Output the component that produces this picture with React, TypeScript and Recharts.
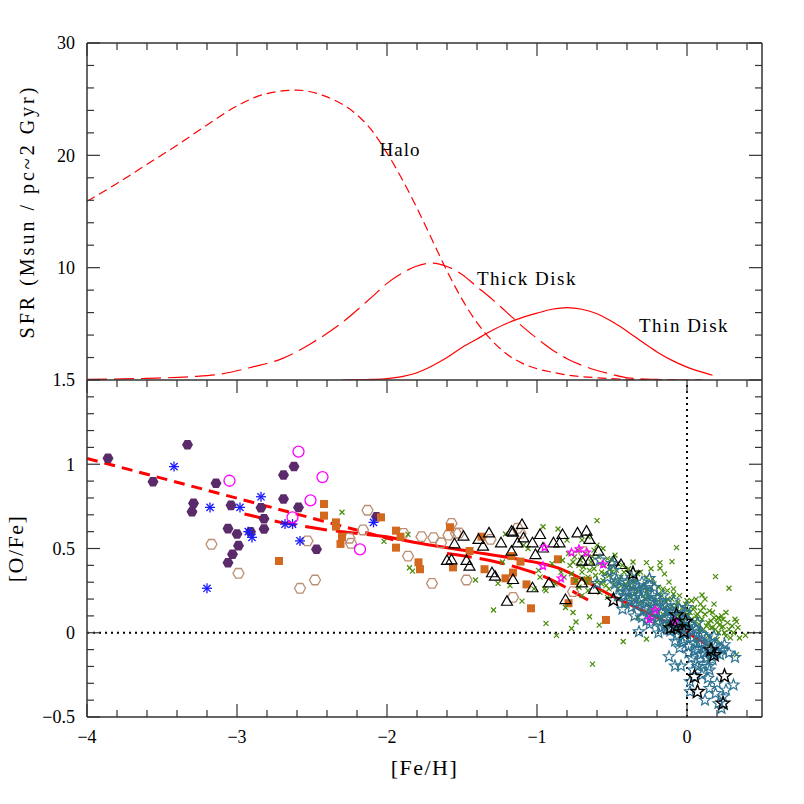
import React from 'react';
import { ComposedChart, Line, Scatter, XAxis, YAxis, ReferenceLine, ReferenceDot } from 'recharts';

const FONT = 'Liberation Serif, DejaVu Serif, serif';
const FRAME = '#333';
const RED = '#ff0000';

// ticks: [Fe/H] minor every 0.2, labelled every 1
const feTicks = [-4, -3.8, -3.6, -3.4, -3.2, -3, -2.8, -2.6, -2.4, -2.2, -2, -1.8, -1.6, -1.4, -1.2, -1, -0.8, -0.6, -0.4, -0.2, 0, 0.2, 0.4];
const feMajor = [-4, -3, -2, -1, 0];
const feLabels = [-4, -3, -2, -1, 0];

const sfrTicks = [2, 4, 6, 8, 10, 12, 14, 16, 18, 20, 22, 24, 26, 28, 30];
const sfrMajor = [10, 20, 30];
const sfrLabels = [10, 20, 30];

const ofeTicks = [-0.5, -0.4, -0.3, -0.2, -0.1, 0, 0.1, 0.2, 0.3, 0.4, 0.5, 0.6, 0.7, 0.8, 0.9, 1, 1.1, 1.2, 1.3, 1.4, 1.5];
const ofeMajor = [-0.5, 0, 0.5, 1, 1.5];
const ofeLabels = [-0.5, 0, 0.5, 1, 1.5];

// top panel: star formation rate vs [Fe/H]
const haloSfr = [
  [-4.0, 15.9], [-3.8, 17.5], [-3.6, 19.2], [-3.4, 20.9], [-3.2, 22.7], [-3.0, 24.4], [-2.8, 25.5],
  [-2.6, 25.8], [-2.4, 25.2], [-2.2, 23.6], [-2.1, 22.2], [-2.0, 20.2], [-1.9, 17.9], [-1.8, 15.3],
  [-1.7, 12.5], [-1.6, 9.7], [-1.5, 7.2], [-1.4, 5.1], [-1.3, 3.5], [-1.2, 2.3], [-1.1, 1.5],
  [-1.0, 1.0], [-0.9, 0.7], [-0.8, 0.45], [-0.6, 0.2], [-0.4, 0.07], [-0.2, 0.02], [0.0, 0.0], [0.1, 0.0],
];
const thickSfr = [
  [-4.0, 0.05], [-3.6, 0.15], [-3.3, 0.3], [-3.1, 0.55], [-2.9, 1.15], [-2.7, 1.9], [-2.5, 3.3],
  [-2.3, 5.1], [-2.1, 7.4], [-2.0, 8.6], [-1.9, 9.5], [-1.8, 10.15], [-1.7, 10.4], [-1.6, 10.1],
  [-1.5, 9.4], [-1.4, 8.3], [-1.3, 7.2], [-1.2, 6.0], [-1.1, 4.8], [-1.0, 3.7], [-0.9, 2.7],
  [-0.8, 1.9], [-0.7, 1.3], [-0.6, 0.85], [-0.5, 0.5], [-0.4, 0.2], [-0.2, 0.05], [0.0, 0.0], [0.1, 0.0],
];
const thinSfr = [
  [-2.3, 0.0], [-2.1, 0.05], [-2.0, 0.12], [-1.9, 0.3], [-1.8, 0.65], [-1.7, 1.25], [-1.6, 2.0],
  [-1.5, 2.9], [-1.4, 3.65], [-1.3, 4.4], [-1.2, 5.05], [-1.1, 5.55], [-1.0, 5.95], [-0.9, 6.3],
  [-0.8, 6.45], [-0.7, 6.3], [-0.6, 5.9], [-0.5, 5.2], [-0.4, 4.35], [-0.3, 3.4], [-0.2, 2.5],
  [-0.1, 1.75], [0.0, 1.15], [0.1, 0.7], [0.17, 0.42],
];

// bottom panel: observed [O/Fe] vs [Fe/H]
const purpleHex = [
  [-3.86, 1.035], [-3.33, 1.116], [-3.56, 0.896], [-3.14, 0.887], [-3.29, 0.768], [-3.3, 0.718],
  [-3.04, 0.756], [-2.84, 0.742], [-2.82, 0.677], [-2.82, 0.616], [-3.06, 0.618], [-3.0, 0.586],
  [-2.91, 0.6], [-2.99, 0.517], [-3.03, 0.466], [-3.06, 0.416], [-2.69, 0.936], [-2.62, 0.986],
  [-2.69, 0.794], [-2.59, 0.744], [-2.47, 0.495], [-2.07, 0.689],
];
const blueAst = [
  [-3.42, 0.986], [-3.18, 0.744], [-2.98, 0.744], [-2.84, 0.807], [-2.925, 0.6], [-2.9, 0.566],
  [-3.2, 0.264], [-2.68, 0.645], [-2.63, 0.645], [-2.58, 0.545], [-2.09, 0.655],
];
const magentaCirc = [[-3.05, 0.902], [-2.59, 1.075], [-2.43, 0.924], [-2.51, 0.786], [-2.63, 0.685], [-2.18, 0.495]];
const tanHex = [
  [-3.17, 0.525], [-2.99, 0.353], [-2.53, 0.545], [-2.58, 0.264], [-2.48, 0.313], [-2.13, 0.727],
  [-2.25, 0.561], [-2.24, 0.531], [-2.16, 0.61], [-1.86, 0.455], [-1.77, 0.57], [-1.69, 0.564],
  [-1.64, 0.534], [-1.57, 0.649], [-1.54, 0.59], [-1.89, 0.59], [-1.7, 0.293], [-1.47, 0.313],
  [-1.59, 0.58], [-1.52, 0.592], [-1.31, 0.554], [-1.16, 0.21], [-1.11, 0.59], [-0.76, 0.244],
  [-0.69, 0.481], [-1.13, 0.62],
];
const orangeSq = [
  [-2.72, 0.426], [-2.42, 0.764], [-2.42, 0.695], [-2.34, 0.655], [-2.34, 0.63], [-2.3, 0.57],
  [-2.31, 0.527], [-2.04, 0.685], [-1.94, 0.606], [-1.94, 0.505], [-1.91, 0.57], [-1.79, 0.418],
  [-1.78, 0.377], [-1.58, 0.626], [-1.56, 0.388], [-1.37, 0.57], [-1.45, 0.485], [-1.35, 0.377],
  [-1.21, 0.323], [-1.17, 0.455], [-1.16, 0.357], [-1.07, 0.287], [-1.04, 0.145], [-1.11, 0.422],
  [-0.86, 0.436], [-0.75, 0.307], [-0.79, 0.175], [-0.66, 0.309], [-0.54, 0.076],
];
const blackTri = [
  [-1.55, 0.525], [-1.6, 0.426], [-1.57, 0.43], [-1.47, 0.426], [-1.45, 0.392], [-1.49, 0.57],
  [-1.39, 0.551], [-1.36, 0.511], [-1.32, 0.59], [-1.3, 0.353], [-1.28, 0.333], [-1.24, 0.531],
  [-1.2, 0.184], [-1.16, 0.313], [-1.17, 0.6], [-1.1, 0.64], [-1.09, 0.56], [-1.03, 0.531],
  [-1.01, 0.461], [-1.03, 0.264], [-0.92, 0.293], [-0.89, 0.531], [-0.83, 0.58], [-0.85, 0.531],
  [-0.81, 0.194], [-0.73, 0.59], [-0.67, 0.6], [-0.65, 0.551], [-0.7, 0.422], [-0.65, 0.422],
  [-0.59, 0.481], [-0.49, 0.422], [-0.44, 0.402], [-0.7, 0.293], [-0.62, 0.254], [-1.17, 0.481],
  [-1.16, 0.594], [-0.96, 0.5], [-0.98, 0.58], [-1.13, 0.53],
];
const greenX = [
  [-2.3, 0.715], [-2.02, 0.542], [-1.86, 0.584], [-1.85, 0.386], [-1.83, 0.366], [-1.41, 0.313],
  [-1.29, 0.135], [-1.26, 0.293], [-1.21, 0.586], [-1.1, 0.188], [-0.96, 0.629], [-0.94, 0.056],
  [-0.87, -0.016], [-0.86, 0.616], [-0.77, 0.025], [-0.74, 0.064], [-0.65, 0.095], [-0.63, -0.186],
  [-0.6, 0.665], [-0.585, 0.045], [-0.425, -0.052], [-0.27, 0.416], [-0.18, 0.416], [-0.18, 0.383],
  [-0.15, 0.349], [-0.1, 0.422], [-0.07, 0.505], [0.19, 0.333], [0.28, 0.264], [0.1, 0.224],
  [0.06, 0.2], [0.33, 0.066], [0.39, -0.016], [0.35, -0.031], [0.33, -0.13], [0.24, 0.036],
  [0.21, 0.086], [-0.27, -0.037], [-1.02, 0.26], [-0.95, 0.26], [-0.94, 0.25], [-0.98, 0.33],
  [-0.88, 0.29], [-1.09, 0.52], [-1.06, 0.5], [-0.9, 0.41], [-0.99, 0.37], [-0.84, 0.36],
  [-0.72, 0.27], [-0.7, 0.22], [-1.18, 0.28], [-1.23, 0.42], [-0.81, 0.15], [-0.76, 0.12],
  [-0.8, 0.55], [-0.7, 0.55], [-0.66, 0.57], [-0.6, 0.52],
  [-0.75, 0.45], [-0.72, 0.4], [-0.7, 0.36], [-0.68, 0.47], [-0.66, 0.33], [-0.64, 0.42],
  [-0.62, 0.38], [-0.6, 0.3], [-0.59, 0.45], [-0.57, 0.36], [-0.55, 0.4], [-0.54, 0.28],
  [-0.52, 0.34], [-0.5, 0.43], [-0.49, 0.31], [-0.47, 0.37], [-0.46, 0.26], [-0.44, 0.33],
  [-0.43, 0.4], [-0.41, 0.29], [-0.4, 0.22], [-0.38, 0.35], [-0.37, 0.27], [-0.35, 0.31],
  [-0.34, 0.19], [-0.32, 0.25], [-0.31, 0.36], [-0.29, 0.22], [-0.28, 0.29], [-0.26, 0.17],
  [-0.25, 0.26], [-0.23, 0.32], [-0.22, 0.2], [-0.2, 0.14], [-0.19, 0.27], [-0.17, 0.22],
  [-0.16, 0.11], [-0.14, 0.18], [-0.13, 0.25], [-0.11, 0.14], [-0.1, 0.2], [-0.08, 0.09],
  [-0.07, 0.16], [-0.05, 0.22], [-0.04, 0.12], [-0.02, 0.07], [-0.01, 0.17], [0.01, 0.1],
  [0.02, 0.03], [0.04, 0.14], [0.05, 0.06], [0.07, 0.11], [0.08, 0.01], [0.1, 0.08],
  [0.11, 0.15], [0.13, 0.04], [0.14, -0.02], [0.16, 0.07], [0.17, 0.12], [0.19, 0.02],
  [0.2, -0.04], [0.22, 0.05], [0.23, 0.1], [0.25, 0.0], [0.27, 0.06], [0.29, -0.03],
  [0.3, 0.04], [0.32, 0.08], [-0.62, 0.49], [-0.56, 0.5], [-0.48, 0.46], [-0.58, 0.24],
  [-0.45, 0.2], [-0.36, 0.42], [-0.3, 0.12], [-0.21, 0.06], [-0.12, 0.3], [-0.06, 0.03],
  [0.03, 0.19], [0.12, 0.2], [0.18, 0.17], [-0.66, 0.25], [-0.53, 0.21], [-0.42, 0.16],
  [-0.33, 0.09], [-0.24, 0.38], [-0.15, 0.04], [-0.03, -0.03], [0.06, -0.05], [0.15, -0.08],
  [0.26, 0.12], [-0.78, 0.4], [-0.74, 0.31], [-0.51, 0.38], [-0.39, 0.3], [-0.27, 0.33],
  [-0.18, 0.18], [-0.09, 0.26], [0.0, 0.13], [0.09, 0.17], [0.21, 0.09],
  [-0.79, 0.47], [-0.77, 0.35], [-0.76, 0.42], [-0.73, 0.49], [-0.71, 0.43], [-0.69, 0.39],
  [-0.67, 0.3], [-0.65, 0.37], [-0.63, 0.45], [-0.61, 0.34], [-0.58, 0.41], [-0.57, 0.29],
  [-0.55, 0.35], [-0.53, 0.44], [-0.52, 0.26], [-0.5, 0.36], [-0.48, 0.28], [-0.46, 0.41],
  [-0.45, 0.32], [-0.43, 0.24], [-0.42, 0.36], [-0.4, 0.27], [-0.39, 0.38], [-0.37, 0.21],
  [-0.36, 0.3], [-0.34, 0.26], [-0.33, 0.35], [-0.31, 0.18], [-0.3, 0.27], [-0.28, 0.2],
  [-0.27, 0.25], [-0.25, 0.15], [-0.24, 0.21], [-0.22, 0.29], [-0.21, 0.17], [-0.19, 0.23],
  [-0.18, 0.09], [-0.16, 0.26], [-0.15, 0.15], [-0.13, 0.2], [-0.12, 0.07], [-0.1, 0.16],
  [-0.09, 0.23], [-0.07, 0.11], [-0.06, 0.18], [-0.04, 0.07], [-0.03, 0.15], [-0.01, 0.04],
  [0.0, 0.19], [0.02, 0.12], [0.03, 0.08], [0.05, 0.15], [0.06, 0.1], [0.08, 0.05],
  [0.09, 0.13], [0.11, 0.02], [0.12, 0.11], [0.14, 0.06], [0.15, 0.13], [0.17, 0.03],
  [0.18, 0.09], [0.2, 0.06], [0.21, 0.0], [0.23, 0.03], [0.24, 0.08], [0.26, -0.02],
  [0.28, 0.02], [0.31, 0.0], [0.34, 0.03], [-0.83, 0.43], [-0.82, 0.33], [-0.7, 0.32],
  [-0.56, 0.31], [-0.44, 0.28], [-0.35, 0.23], [-0.26, 0.22], [-0.14, 0.12], [-0.05, 0.1],
  [0.07, 0.08], [0.16, 0.03],
];
const tealStar = [
  [-0.58, 0.432], [-0.5, 0.412], [-0.47, 0.313], [-0.25, 0.323], [-0.32, 0.254], [-0.41, 0.244],
  [-0.6, 0.293], [-0.36, 0.283], [-0.32, 0.006], [-0.49, 0.37], [-0.53, 0.33],
  [-0.12, -0.142], [-0.08, -0.197], [-0.04, -0.197], [0.04, -0.221], [0.07, -0.2], [0.02, -0.29],
  [0.15, -0.221], [0.14, -0.27], [0.15, -0.33], [0.19, -0.36], [0.24, -0.38], [0.23, -0.449],
  [0.31, -0.31], [0.32, -0.146], [0.24, -0.103], [0.17, -0.16], [0.02, -0.35], [0.1, -0.25],
  [0.2, -0.3], [0.21, -0.42], [0.26, -0.34], [0.12, -0.4],
  [-0.45, 0.27], [-0.42, 0.22], [-0.4, 0.3], [-0.38, 0.19], [-0.36, 0.24], [-0.34, 0.16],
  [-0.33, 0.28], [-0.31, 0.2], [-0.29, 0.13], [-0.28, 0.24], [-0.26, 0.18], [-0.24, 0.1],
  [-0.23, 0.22], [-0.21, 0.15], [-0.2, 0.07], [-0.18, 0.19], [-0.17, 0.12], [-0.15, 0.04],
  [-0.14, 0.16], [-0.12, 0.09], [-0.11, 0.01], [-0.1, 0.13], [-0.08, 0.06], [-0.07, -0.02],
  [-0.06, 0.1], [-0.04, 0.03], [-0.03, -0.06], [-0.02, 0.08], [0.0, 0.0], [0.01, -0.08],
  [0.02, 0.05], [0.04, -0.03], [0.05, -0.11], [0.06, 0.02], [0.08, -0.06], [0.09, -0.13],
  [0.1, -0.01], [0.12, -0.09], [0.13, -0.15], [0.15, -0.05], [0.17, -0.11], [0.19, -0.08],
  [0.22, -0.13], [0.25, -0.07], [0.28, -0.12], [-0.37, 0.33], [-0.3, 0.3], [-0.22, 0.27],
  [-0.16, 0.22], [-0.13, 0.02], [-0.09, 0.19], [-0.05, -0.09], [-0.01, 0.12], [0.03, -0.15],
  [0.07, 0.06], [0.11, -0.19], [-0.27, 0.07], [-0.19, 0.0], [-0.35, 0.1], [-0.43, 0.14],
  [-0.25, 0.28], [0.0, 0.15], [0.06, -0.18], [0.14, -0.2], [0.18, -0.02],
  [-0.48, 0.29], [-0.46, 0.22], [-0.44, 0.31], [-0.41, 0.18], [-0.39, 0.25], [-0.37, 0.15],
  [-0.35, 0.21], [-0.32, 0.18], [-0.3, 0.09], [-0.29, 0.26], [-0.27, 0.14], [-0.25, 0.05],
  [-0.24, 0.19], [-0.22, 0.12], [-0.2, 0.21], [-0.19, 0.09], [-0.17, 0.03], [-0.16, 0.16],
  [-0.14, 0.08], [-0.13, 0.13], [-0.11, 0.06], [-0.09, 0.11], [-0.08, -0.05], [-0.06, 0.04],
  [-0.05, 0.14], [-0.03, 0.02], [-0.02, -0.04], [0.0, 0.07], [0.01, -0.12], [0.03, 0.01],
  [0.05, -0.06], [0.07, -0.1], [0.08, 0.0], [0.1, -0.06], [0.11, -0.12], [0.13, -0.03],
  [0.16, -0.14], [0.18, -0.07], [0.2, -0.12], [0.23, -0.09],
];
const magentaStar = [
  [-0.95, 0.507], [-0.96, 0.396], [-0.77, 0.477], [-0.72, 0.497], [-0.67, 0.477], [-0.56, 0.406],
  [-0.84, 0.323], [-0.21, 0.135], [-0.25, 0.08], [-0.08, 0.066],
];
const blackStar = [
  [-0.36, 0.353], [-0.49, 0.194], [-0.07, 0.105], [-0.08, 0.036], [-0.01, 0.066], [-0.02, 0.006],
  [0.16, -0.103], [0.18, -0.132], [0.05, -0.261], [0.07, -0.35], [0.25, -0.257], [0.24, -0.419],
  [-0.11, 0.028],
];

// model tracks in the bottom panel
const haloTrack = [[-4.0, 1.035], [-1.95, 0.55]];
const thickTrackEarly = [[-2.95, 0.705], [-2.71, 0.655], [-2.4, 0.61], [-2.0, 0.57]];
const mainTrack = [[-2.0, 0.57], [-1.78, 0.531], [-1.45, 0.483], [-1.16, 0.442], [-0.86, 0.385], [-0.49, 0.214], [0.0, 0.0], [0.17, -0.09]];
const sideTrack = [[-1.6, 0.47], [-1.18, 0.4], [-0.98, 0.343], [-0.66, 0.194]];

const toPts = (a: number[][]) => a.map(([x, y]) => ({ x, y }));
const fmt = (v: number) => (v < 0 ? '\u2212' + String(Math.abs(v)) : String(v));
const near = (arr: number[], v: number) => arr.some((m) => Math.abs(m - v) < 1e-6);

const Tick = (props: any) => {
  const { x, y, payload, side, major, labels } = props;
  const v = Number(payload.value);
  const len = near(major, v) ? 13 : 7;
  const dx = side === 'left' ? len : side === 'right' ? -len : 0;
  const dy = side === 'top' ? len : side === 'bottom' ? -len : 0;
  const show = labels && near(labels, v);
  return (
    <g>
      <line x1={x} y1={y} x2={x + dx} y2={y + dy} stroke={FRAME} strokeWidth={1.2} />
      {show && side === 'left' && (
        <text x={x - 12} y={y} dy="0.35em" textAnchor="end" fontSize={18} fontFamily={FONT} fill="#000">
          {fmt(v)}
        </text>
      )}
      {show && side === 'bottom' && (
        <text x={x} y={y + 26} textAnchor="middle" fontSize={18} fontFamily={FONT} fill="#000">
          {fmt(v)}
        </text>
      )}
    </g>
  );
};

const hexPts = (cx: number, cy: number, r: number) =>
  [0, 1, 2, 3, 4, 5].map((i) => `${cx + r * Math.cos((Math.PI / 3) * i)},${cy + r * Math.sin((Math.PI / 3) * i)}`).join(' ');
const starPts = (cx: number, cy: number, R: number, r: number) =>
  [0, 1, 2, 3, 4, 5, 6, 7, 8, 9]
    .map((i) => {
      const a = -Math.PI / 2 + (i * Math.PI) / 5;
      const d = i % 2 === 0 ? R : r;
      return `${cx + d * Math.cos(a)},${cy + d * Math.sin(a)}`;
    })
    .join(' ');

const FilledHex = ({ cx, cy }: any) => <polygon points={hexPts(cx, cy, 5.5)} fill="#5b2a6b" />;
const OpenHex = ({ cx, cy }: any) => <polygon points={hexPts(cx, cy, 5.5)} fill="none" stroke="#bb8f74" strokeWidth={1.3} />;
const Asterisk = ({ cx, cy }: any) => (
  <g stroke="#1a1aff" strokeWidth={1.3}>
    <line x1={cx - 5} y1={cy} x2={cx + 5} y2={cy} />
    <line x1={cx} y1={cy - 5} x2={cx} y2={cy + 5} />
    <line x1={cx - 3.6} y1={cy - 3.6} x2={cx + 3.6} y2={cy + 3.6} />
    <line x1={cx - 3.6} y1={cy + 3.6} x2={cx + 3.6} y2={cy - 3.6} />
  </g>
);
const OpenCircle = ({ cx, cy }: any) => <circle cx={cx} cy={cy} r={5.5} fill="none" stroke="#ff00ff" strokeWidth={1.3} />;
const Square = ({ cx, cy }: any) => <rect x={cx - 4} y={cy - 4} width={8} height={8} fill="#d2691e" />;
const Cross = ({ cx, cy }: any) => (
  <g stroke="#4a8c0c" strokeWidth={1.2}>
    <line x1={cx - 2.5} y1={cy - 2.5} x2={cx + 2.5} y2={cy + 2.5} />
    <line x1={cx - 2.5} y1={cy + 2.5} x2={cx + 2.5} y2={cy - 2.5} />
  </g>
);
const Triangle = ({ cx, cy }: any) => (
  <polygon points={`${cx},${cy - 6} ${cx + 5.5},${cy + 3.5} ${cx - 5.5},${cy + 3.5}`} fill="none" stroke="#000" strokeWidth={1.2} />
);
const TealStar = ({ cx, cy }: any) => <polygon points={starPts(cx, cy, 5.8, 2.5)} fill="none" stroke="#2f7393" strokeWidth={1.2} />;
const PinkStar = ({ cx, cy }: any) => <polygon points={starPts(cx, cy, 4, 1.8)} fill="none" stroke="#ff00ff" strokeWidth={1.3} />;
const BlackStar = ({ cx, cy }: any) => <polygon points={starPts(cx, cy, 7, 3)} fill="none" stroke="#000" strokeWidth={1.4} />;

const SfrPanel = () => (
  <ComposedChart width={804} height={420} margin={{ top: 23, right: 22, bottom: 40, left: 7 }}>
    <XAxis xAxisId="t" orientation="top" type="number" dataKey="x" domain={[-4, 0.5]} allowDataOverflow height={20}
      ticks={feTicks} interval={0} tickSize={0} tickMargin={0} tickLine={false} axisLine={{ stroke: FRAME, strokeWidth: 1.5 }}
      tick={(p: any) => <Tick {...p} side="top" major={feMajor} labels={null} />} />
    <YAxis yAxisId="l" type="number" dataKey="y" domain={[0, 30]} allowDataOverflow width={80}
      ticks={sfrTicks} interval={0} tickSize={0} tickMargin={0} tickLine={false} axisLine={{ stroke: FRAME, strokeWidth: 1.5 }}
      tick={(p: any) => <Tick {...p} side="left" major={sfrMajor} labels={sfrLabels} />}
      label={{ value: 'SFR (Msun / pc~2 Gyr)', angle: -90, position: 'insideLeft', offset: 20, fontSize: 20, fontFamily: FONT, fill: '#000', letterSpacing: 3, style: { textAnchor: 'middle' } }} />
    <YAxis yAxisId="r" orientation="right" type="number" domain={[0, 30]} allowDataOverflow width={20}
      ticks={sfrTicks} interval={0} tickSize={0} tickMargin={0} tickLine={false} axisLine={{ stroke: FRAME, strokeWidth: 1.5 }}
      tick={(p: any) => <Tick {...p} side="right" major={sfrMajor} labels={null} />} />
    <Line xAxisId="t" yAxisId="l" data={toPts(haloSfr)} dataKey="y" type="monotone" stroke={RED} strokeWidth={1.2}
      strokeDasharray="9 5" dot={false} activeDot={false} isAnimationActive={false} />
    <Line xAxisId="t" yAxisId="l" data={toPts(thickSfr)} dataKey="y" type="monotone" stroke={RED} strokeWidth={1.2}
      strokeDasharray="20 7" dot={false} activeDot={false} isAnimationActive={false} />
    <Line xAxisId="t" yAxisId="l" data={toPts(thinSfr)} dataKey="y" type="monotone" stroke={RED} strokeWidth={1.2}
      dot={false} activeDot={false} isAnimationActive={false} />
    <ReferenceDot xAxisId="t" yAxisId="l" x={-2.05} y={20.5} r={0} stroke="none" fill="none"
      label={{ value: 'Halo', position: 'right', offset: 0, fontSize: 19, fontFamily: FONT, fill: '#000', letterSpacing: 1 }} />
    <ReferenceDot xAxisId="t" yAxisId="l" x={-1.4} y={9.1} r={0} stroke="none" fill="none"
      label={{ value: 'Thick Disk', position: 'right', offset: 0, fontSize: 19, fontFamily: FONT, fill: '#000', letterSpacing: 1.5 }} />
    <ReferenceDot xAxisId="t" yAxisId="l" x={-0.32} y={4.9} r={0} stroke="none" fill="none"
      label={{ value: 'Thin Disk', position: 'right', offset: 0, fontSize: 19, fontFamily: FONT, fill: '#000', letterSpacing: 1.5 }} />
  </ComposedChart>
);

const series: [number[][], (p: any) => React.ReactElement][] = [
  [tanHex, OpenHex],
  [purpleHex, FilledHex],
  [blueAst, Asterisk],
  [magentaCirc, OpenCircle],
  [orangeSq, Square],
  [greenX, Cross],
  [blackTri, Triangle],
  [tealStar, TealStar],
  [magentaStar, PinkStar],
  [blackStar, BlackStar],
];

const AbundancePanel = () => (
  <ComposedChart width={804} height={804} margin={{ top: 360, right: 22, bottom: 27, left: 7 }}>
    <XAxis xAxisId="t" orientation="top" type="number" dataKey="x" domain={[-4, 0.5]} allowDataOverflow height={20}
      ticks={feTicks} interval={0} tickSize={0} tickMargin={0} tickLine={false} axisLine={{ stroke: FRAME, strokeWidth: 1.5 }}
      tick={(p: any) => <Tick {...p} side="top" major={feMajor} labels={null} />} />
    <XAxis xAxisId="b" orientation="bottom" type="number" dataKey="x" domain={[-4, 0.5]} allowDataOverflow height={60}
      ticks={feTicks} interval={0} tickSize={0} tickMargin={0} tickLine={false} axisLine={{ stroke: FRAME, strokeWidth: 1.5 }}
      tick={(p: any) => <Tick {...p} side="bottom" major={feMajor} labels={feLabels} />}
      label={{ value: '[Fe/H]', position: 'insideBottom', offset: 2, fontSize: 22, fontFamily: FONT, fill: '#000', letterSpacing: 1.5 }} />
    <YAxis yAxisId="l" type="number" dataKey="y" domain={[-0.5, 1.5]} allowDataOverflow width={80}
      ticks={ofeTicks} interval={0} tickSize={0} tickMargin={0} tickLine={false} axisLine={{ stroke: FRAME, strokeWidth: 1.5 }}
      tick={(p: any) => <Tick {...p} side="left" major={ofeMajor} labels={ofeLabels} />}
      label={{ value: '[O/Fe]', angle: -90, position: 'insideLeft', offset: 8, fontSize: 22, fontFamily: FONT, fill: '#000', letterSpacing: 1.5, style: { textAnchor: 'middle' } }} />
    <YAxis yAxisId="r" orientation="right" type="number" domain={[-0.5, 1.5]} allowDataOverflow width={20}
      ticks={ofeTicks} interval={0} tickSize={0} tickMargin={0} tickLine={false} axisLine={{ stroke: FRAME, strokeWidth: 1.5 }}
      tick={(p: any) => <Tick {...p} side="right" major={ofeMajor} labels={null} />} />
    <ReferenceLine xAxisId="b" yAxisId="l" y={0} stroke="#000" strokeWidth={2} strokeDasharray="2 4" />
    <ReferenceLine xAxisId="b" yAxisId="l" x={0} stroke="#000" strokeWidth={2} strokeDasharray="2 4" />
    {series.map(([pts, Shape], i) => (
      <Scatter key={i} xAxisId="b" yAxisId="l" data={toPts(pts)} dataKey="y" shape={(p: any) => <Shape cx={p.cx} cy={p.cy} />}
        isAnimationActive={false} />
    ))}
    <Line xAxisId="b" yAxisId="l" data={toPts(haloTrack)} dataKey="y" type="linear" stroke={RED} strokeWidth={3}
      strokeDasharray="11 7" dot={false} activeDot={false} isAnimationActive={false} />
    <Line xAxisId="b" yAxisId="l" data={toPts(thickTrackEarly)} dataKey="y" type="linear" stroke={RED} strokeWidth={3}
      strokeDasharray="22 9" dot={false} activeDot={false} isAnimationActive={false} />
    <Line xAxisId="b" yAxisId="l" data={toPts(mainTrack)} dataKey="y" type="monotone" stroke={RED} strokeWidth={3}
      dot={false} activeDot={false} isAnimationActive={false} />
    <Line xAxisId="b" yAxisId="l" data={toPts(sideTrack)} dataKey="y" type="monotone" stroke={RED} strokeWidth={3}
      strokeDasharray="25 8" dot={false} activeDot={false} isAnimationActive={false} />
  </ComposedChart>
);

export default function App() {
  return (
    <div style={{ position: 'absolute', left: 0, top: 0, width: 804, height: 804, background: '#fff' }}>
      <div style={{ position: 'absolute', left: 0, top: 0 }}>
        <SfrPanel />
      </div>
      <div style={{ position: 'absolute', left: 0, top: 0 }}>
        <AbundancePanel />
      </div>
    </div>
  );
}
